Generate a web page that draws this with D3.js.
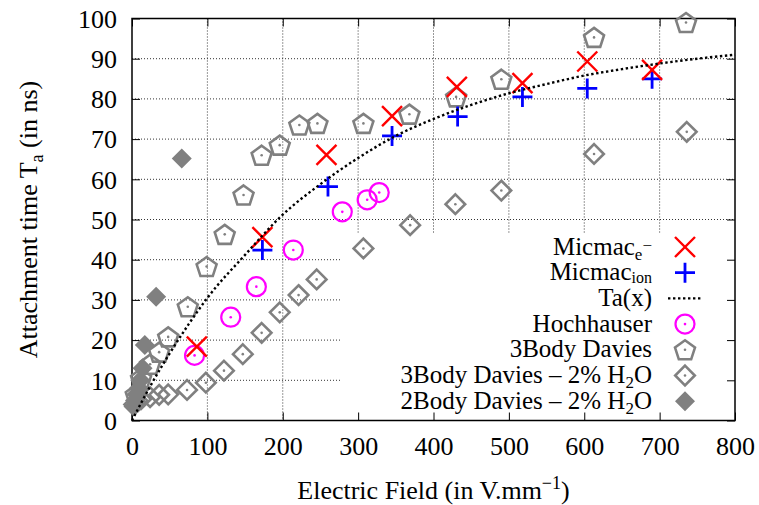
<!DOCTYPE html>
<html><head><meta charset="utf-8">
<script src="https://cdn.jsdelivr.net/npm/d3@7"></script>
<style>
body{margin:0;background:#fff}
svg{display:block}
svg text{font-family:"Liberation Serif","Times New Roman",Times,Tinos,"DejaVu Serif","Noto Serif",serif !important;fill:#000}
</style>
</head><body>
<svg id="c" width="759" height="505"></svg>
<script>
// ---- data ----
const xTicks = [0,100,200,300,400,500,600,700,800];
const yTicks = [0,10,20,30,40,50,60,70,80,90,100];
const micmacE = [[86,18.4],[173,45.6],[258,66.1],[345,75.7],[431,83.0],[518,83.9],[604,89.3],[690,87.2]];
const micmacIon = [[173,42.4],[260,58.2],[345,70.8],[432,75.6],[518,80.5],[604,82.6],[690,85.0]];
const taCurve = [[0,0],[25,8.8],[50,16.7],[75,23.9],[100,30.5],[150,41.2],[200,51.2],[250,58.8],[300,65.3],[350,70.8],[400,75.0],[450,78.5],[500,81.4],[550,83.7],[600,85.8],[650,87.4],[700,88.8],[750,90.0],[800,91.0]];
const hochhauser = [[83,16.2],[131,25.7],[165,33.3],[214,42.4],[279,51.9],[312,54.9],[328,56.7]];
const davies3 = [[5,6.5],[12,10.5],[24,14],[36,17],[48,20.8],[74,28.3],[99,38.3],[123,46.3],[148,56.1],[172,66.0],[196,68.5],[222,73.5],[246,73.9],[307,73.9],[368,76.2],[430,80.5],[490,84.9],[613,95.3],[735,99.0]];
const davies3H2O = [[3,4],[8,4.8],[12,5.3],[24,5.8],[36,6.4],[48,6.5],[73,7.6],[98,9.4],[122,12.4],[147,16.5],[172,21.8],[196,26.9],[221,31.2],[245,35.1],[307,42.8],[369,48.6],[429,53.8],[490,57.2],[613,66.3],[736,71.8]];
const davies2H2O = [[2,3.5],[4,5],[6,6.5],[9,8],[11,10],[14,13],[17,18.8],[32,30.8],[66,65.2]];
const legendLabels = ["Micmac_e-","Micmac_ion","Ta(x)","Hochhauser","3Body Davies","3Body Davies – 2% H2O","2Body Davies – 2% H2O"];

// ---- layout ----
const L = 132, R = 735, T = 18.5, B = 420.5;
const FS = 26, SUB = 18, LFS = 25, LSUB = 17;
const FONT = '"Liberation Serif","Times New Roman",Times,Tinos,"DejaVu Serif","Noto Serif",serif';
const grey = "#808080";
const svg = d3.select("#c");
const x = d3.scaleLinear().domain([0,800]).range([L,R]);
const y = d3.scaleLinear().domain([0,100]).range([B,T]);

// grid
const grid = svg.append("g").attr("stroke","#333").attr("stroke-width",1).attr("stroke-dasharray","1,2");
grid.selectAll("line.v").data(xTicks.slice(1,-1)).join("line")
  .attr("x1",d=>x(d)).attr("x2",d=>x(d)).attr("y1",T).attr("y2",B);
grid.selectAll("line.h").data(yTicks.slice(1,-1)).join("line")
  .attr("x1",L).attr("x2",R).attr("y1",d=>y(d)).attr("y2",d=>y(d));

// key box area (grid not drawn there)
svg.append("rect").attr("x",342).attr("y",233).attr("width",R-342).attr("height",B-233).attr("fill","#fff");

// axes with inward ticks
const tk = 8;
const axB = svg.append("g").attr("transform",`translate(0,${B})`)
  .call(d3.axisBottom(x).tickValues(xTicks).tickSizeInner(-tk).tickSizeOuter(0).tickPadding(16));
const axT = svg.append("g").attr("transform",`translate(0,${T})`)
  .call(d3.axisTop(x).tickValues(xTicks).tickSizeInner(-tk).tickSizeOuter(0).tickFormat(""));
const axL = svg.append("g").attr("transform",`translate(${L},0)`)
  .call(d3.axisLeft(y).tickValues(yTicks).tickSizeInner(-tk).tickSizeOuter(0).tickPadding(15));
const axR = svg.append("g").attr("transform",`translate(${R},0)`)
  .call(d3.axisRight(y).tickValues(yTicks).tickSizeInner(-tk).tickSizeOuter(0).tickFormat(""));
[axB,axT,axL,axR].forEach(a=>{
  a.attr("font-family",FONT);
  a.select(".domain").remove();
  a.selectAll(".tick line").attr("stroke","#000").attr("stroke-width",1);
  a.selectAll("text").attr("font-size",FS).attr("fill","#000");
});
axB.selectAll("text").attr("dy","0.71em");
axL.selectAll("text").attr("dy","0.34em");

// frame
svg.append("rect").attr("x",L).attr("y",T).attr("width",R-L).attr("height",B-T)
  .attr("fill","none").attr("stroke","#000").attr("stroke-width",1.5);

// marker generators
function pentPath(r){
  const pts=d3.range(5).map(i=>{const a=-Math.PI/2+i*2*Math.PI/5;return [r*Math.cos(a),r*Math.sin(a)];});
  return d3.line()(pts)+"Z";
}
function diamPath(r){return `M0,${-r}L${r},0L0,${r}L${-r},0Z`;}
function drawMarker(g,type,cx,cy){
  const m=g.append("g").attr("transform",`translate(${cx},${cy})`);
  if(type==="x"){
    m.append("path").attr("d","M-10,-10L10,10M-10,10L10,-10").attr("stroke","#ff0000").attr("stroke-width",2.4).attr("fill","none");
  } else if(type==="plus"){
    m.append("path").attr("d","M-10,0L10,0M0,-10L0,10").attr("stroke","#0000ff").attr("stroke-width",2.8).attr("fill","none");
  } else if(type==="circle"){
    m.append("circle").attr("r",9.5).attr("stroke","#ff00ff").attr("stroke-width",2.2).attr("fill","none");
    m.append("circle").attr("r",1.3).attr("fill","#ff00ff");
  } else if(type==="pent"){
    m.append("path").attr("d",pentPath(10.5)).attr("transform","translate(0,1)").attr("stroke",grey).attr("stroke-width",2.6).attr("fill","none").attr("stroke-linejoin","miter");
    m.append("circle").attr("r",1.3).attr("fill",grey);
  } else if(type==="odiam"){
    m.append("path").attr("d",diamPath(9.8)).attr("stroke",grey).attr("stroke-width",2.6).attr("fill","none");
    m.append("circle").attr("r",1.3).attr("fill",grey);
  } else if(type==="fdiam"){
    m.append("path").attr("d",diamPath(10)).attr("fill",grey);
  }
}
const pts = svg.append("g");
davies2H2O.forEach(d=>drawMarker(pts,"fdiam",x(d[0]),y(d[1])));
davies3H2O.forEach(d=>drawMarker(pts,"odiam",x(d[0]),y(d[1])));
davies3.forEach(d=>drawMarker(pts,"pent",x(d[0]),y(d[1])));
hochhauser.forEach(d=>drawMarker(pts,"circle",x(d[0]),y(d[1])));

// Ta(x) curve
const line = d3.line().x(d=>x(d[0])).y(d=>y(d[1])).curve(d3.curveMonotoneX);
svg.append("path").datum(taCurve).attr("d",line).attr("fill","none")
  .attr("stroke","#000").attr("stroke-width",2.4).attr("stroke-dasharray","2.4,2.6");

micmacIon.forEach(d=>drawMarker(pts,"plus",x(d[0]),y(d[1])));
micmacE.forEach(d=>drawMarker(pts,"x",x(d[0]),y(d[1])));

// legend
const lg = svg.append("g").attr("font-family",FONT);
const lx = 652, sx = 685, ly0 = 247, lstep = 25.7;
const types = ["x","plus","line","circle","pent","odiam","fdiam"];
legendLabels.forEach((lab,i)=>{
  const cy = ly0 + i*lstep;
  const t = lg.append("text").attr("x",lx).attr("y",cy+7.5).attr("text-anchor","end").attr("font-size",LFS);
  if(lab==="Micmac_e-"){
    t.append("tspan").text("Micmac");
    t.append("tspan").attr("dy",5).attr("font-size",LSUB).text("e");
    t.append("tspan").attr("dy",-9).attr("font-size",LSUB).text("−");
  } else if(lab==="Micmac_ion"){
    t.append("tspan").text("Micmac");
    t.append("tspan").attr("dy",3).attr("font-size",16).text("ion");
  } else if(lab.endsWith("H2O")){
    t.append("tspan").text(lab.slice(0,-2));
    t.append("tspan").attr("dy",5).attr("font-size",LSUB).text("2");
    t.append("tspan").attr("dy",-5).text("O");
  } else {
    t.text(lab);
  }
  if(types[i]==="line"){
    lg.append("line").attr("x1",668).attr("x2",703).attr("y1",cy).attr("y2",cy)
      .attr("stroke","#000").attr("stroke-width",2.4).attr("stroke-dasharray","2.4,2.6");
  } else {
    drawMarker(lg,types[i],sx,cy);
  }
});

// axis titles
const xt = svg.append("text").attr("font-family",FONT).attr("x",(L+R)/2).attr("y",499).attr("text-anchor","middle").attr("font-size",FS);
xt.append("tspan").text("Electric Field (in V.mm");
xt.append("tspan").attr("dy",-10).attr("font-size",SUB).text("−1");
xt.append("tspan").attr("dy",10).text(")");

const yt = svg.append("text").attr("font-family",FONT).attr("transform",`translate(37,${(T+B)/2}) rotate(-90)`).attr("text-anchor","middle").attr("font-size",FS);
yt.append("tspan").text("Attachment time T");
yt.append("tspan").attr("dy",6).attr("font-size",SUB).text("a");
yt.append("tspan").attr("dy",-6).text(" (in ns)");
</script>
</body></html>
